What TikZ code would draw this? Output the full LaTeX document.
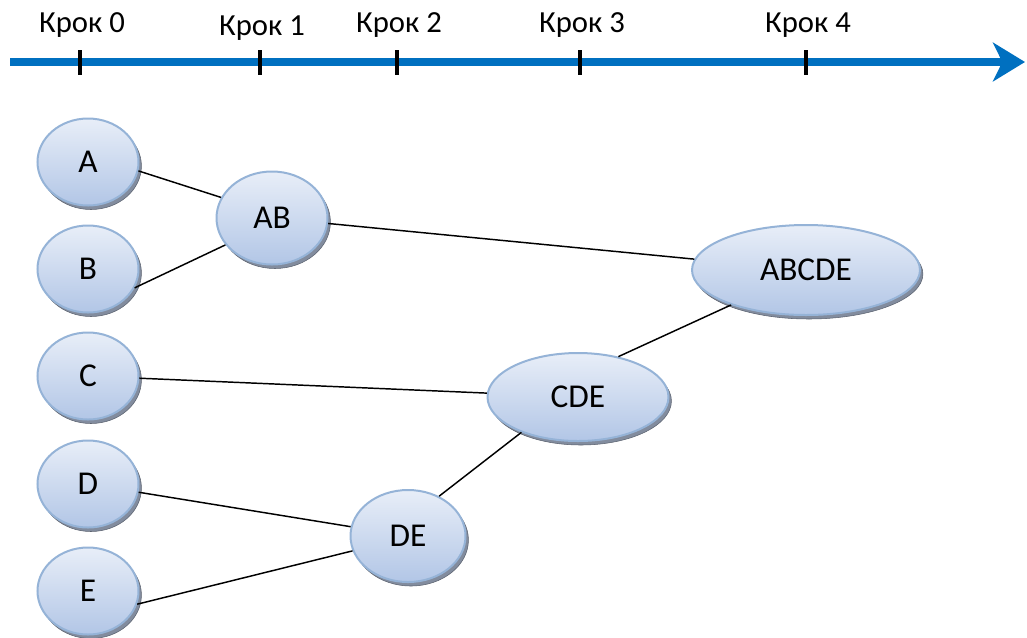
\documentclass[tikz,border=0pt]{standalone}
\usepackage{fontspec}
\setmainfont{Carlito}
\usetikzlibrary{arrows.meta,shapes.geometric,shadows}
\definecolor{axisblue}{RGB}{0,112,192}
\definecolor{nodeborder}{RGB}{149,179,215}
\definecolor{topfill}{RGB}{232,238,248}
\definecolor{botfill}{RGB}{178,198,230}
\definecolor{shadowc}{RGB}{130,140,158}
\begin{document}
\begin{tikzpicture}[x=0.75pt,y=-0.75pt,
  every node/.style={font=\fontsize{23}{27}\selectfont},
  cluster/.style={ellipse, draw=nodeborder, line width=1.5pt, top color=topfill, bottom color=botfill, inner sep=0pt,
    font=\fontsize{25}{29}\selectfont,
    drop shadow={shadow xshift=2.2pt, shadow yshift=-3pt, fill=shadowc, opacity=1, draw=shadowc!70!black, line width=0.4pt}},
  small/.style={cluster, minimum width=75.75pt, minimum height=65.25pt},
  link/.style={draw=black, line width=1.1pt},
  tick/.style={draw=black, line width=2.6pt},
  steplabel/.style={anchor=center}]
\useasboundingbox (0,0) rectangle (1027,637);
% axis
\coordinate (ax0) at (10,62);
\coordinate (ax1) at (1025,62);
\draw[axisblue, line width=5.6pt, -{Stealth[length=24pt,width=29pt,inset=7pt]}] (ax0) -- (ax1);
\foreach \x/\n/\ly in {80/0/25, 260/1/28, 397/2/25, 580/3/25, 806/4/25}{
  \coordinate (t\n a) at (\x,50);
  \coordinate (t\n b) at (\x,75);
  \draw[tick] (t\n a) -- (t\n b);
  \node[steplabel] (lbl\n) at (\x+2,\ly) {Крок \n};
}
% nodes
\node[small] (A) at (88,162) {A};
\node[small] (B) at (88,269) {B};
\node[small] (C) at (88,376) {C};
\node[small] (D) at (88,484) {D};
\node[small] (E) at (88,591) {E};
\node[cluster, minimum width=83.25pt, minimum height=69.75pt] (AB) at (272,218) {AB};
\node[cluster, minimum width=171pt, minimum height=67.5pt] (ABCDE) at (806,270) {ABCDE};
\node[cluster, minimum width=135.75pt, minimum height=66pt] (CDE) at (578,397) {CDE};
\node[cluster, minimum width=86.25pt, minimum height=69pt] (DE) at (408,536) {DE};
% links
\draw[link] (A.-10) -- (AB.158);
\draw[link] (B.-22) -- (AB.210);
\draw[link] (AB) -- (ABCDE);
\draw[link] (C) -- (CDE);
\draw[link] (CDE.45) -- (ABCDE.205);
\draw[link] (D) -- (DE);
\draw[link] (E.-15) -- (DE.195);
\draw[link] (DE.52) -- (CDE.212);
\end{tikzpicture}
\end{document}
